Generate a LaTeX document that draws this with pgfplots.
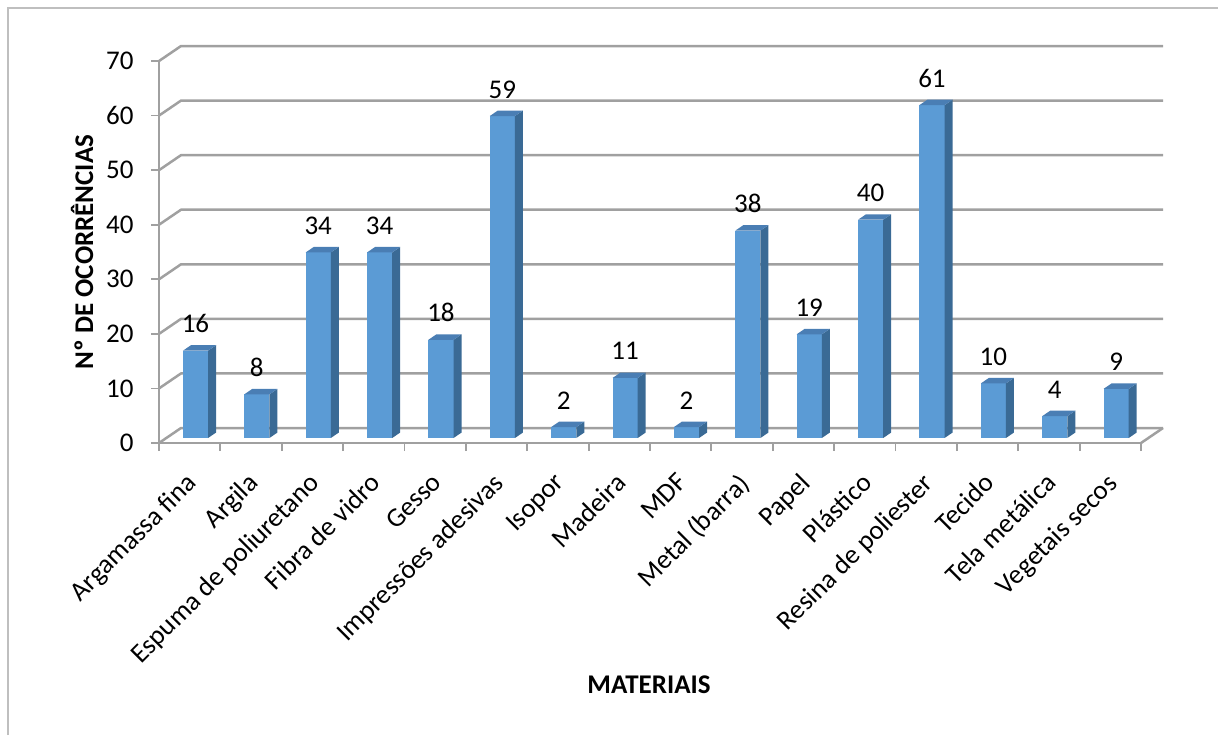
\documentclass[border=0pt]{standalone}
\usepackage{pgfplots}
\pgfplotsset{compat=1.18}
\usepackage{pgfplotstable}
\usepackage{fontspec}
\setmainfont{Carlito}
\definecolor{gridc}{HTML}{A0A0A0}
\definecolor{barfront}{HTML}{5B9BD5}
\definecolor{barside}{HTML}{3A6A95}
\definecolor{bartop}{HTML}{4A7EB4}
\definecolor{borderc}{HTML}{BFBFBF}
\pgfplotstableread{
idx val
0 16
1 8
2 34
3 34
4 18
5 59
6 2
7 11
8 2
9 38
10 19
11 40
12 61
13 10
14 4
15 9
}\datatab
\newcommand\lbl{\fontsize{13.5}{16}\selectfont}
\begin{document}
\begin{tikzpicture}
\useasboundingbox (0,0) rectangle (609pt,367.5pt);
\draw[borderc, line width=0.75pt] (4pt,0) -- (4pt,363.5pt) -- (609pt,363.5pt);
\begin{axis}[
  at={(79.5pt,146pt)}, anchor=south west,
  x=30.6875pt, y=2.7285pt,
  xmin=0, xmax=16, ymin=0, ymax=70,
  clip=false,
  axis x line*=bottom, axis y line*=left,
  axis line style={-, draw=gridc, line width=1.25pt},
  tick align=outside,
  major tick length=4pt,
  tick style={draw=gridc, line width=0.9pt},
  ytick={0,10,...,70},
  xtick={0,...,16}, xticklabels={},
  extra x ticks={0.5,1.5,...,15.5},
  extra x tick labels={Argamassa fina, Argila, Espuma de poliuretano, Fibra de vidro, Gesso, Impressões adesivas, Isopor, Madeira, MDF, Metal (barra), Papel, Plástico, Resina de poliester, Tecido, Tela metálica, Vegetais secos},
  extra x tick style={major tick length=0pt, tick label style={xshift=-2.5pt, yshift=-14pt, rotate=45, anchor=north east, inner sep=0pt}},
  /pgf/number format/assume math mode=true,
  ticklabel style={font=\lbl},
  yticklabel style={anchor=east, inner sep=0pt, xshift=-8.5pt},
]
\pgfplotsinvokeforeach{0,10,...,70}{
  \pgfmathsetmacro\yy{#1+2.749}
  \edef\temp{\noexpand\draw[gridc, line width=1.25pt, line join=round] (axis cs:0,#1) -- (axis cs:0.3585,\yy) -- (axis cs:16.3585,\yy);}
  \temp
}
\draw[gridc, line width=1.25pt] (axis cs:16,0) -- (axis cs:16.3585,2.749);
\pgfplotsinvokeforeach{0,...,15}{
  \pgfplotstablegetelem{#1}{val}\of\datatab
  \pgfmathsetmacro\vt{\pgfplotsretval+0.92}
  \pgfmathsetmacro\vb{\vt+1.0}
  \pgfmathsetmacro\xl{#1+0.5-0.11}
  \pgfmathsetmacro\xr{#1+0.5+0.30}
  \pgfmathsetmacro\xs{#1+0.5+0.43}
  \pgfmathsetmacro\xt{#1+0.5+0.02}
  \edef\doplot{%
    \noexpand\addplot[draw=none, fill=barfront] coordinates {(\xl,0.92) (\xr,0.92) (\xr,\vt) (\xl,\vt)};
    \noexpand\addplot[draw=none, fill=barside] coordinates {(\xr,0.92) (\xs,1.92) (\xs,\vb) (\xr,\vt)};
    \noexpand\addplot[draw=none, fill=bartop] coordinates {(\xl,\vt) (\xr,\vt) (\xs,\vb) (\xt,\vb)};
  }\doplot
}
\addplot[draw=none, nodes near coords, point meta=explicit,
  every node near coord/.append style={anchor=base, inner sep=0pt, yshift=9pt, font=\lbl}]
  table[x expr=\thisrow{idx}+0.594, y expr=\thisrow{val}+0.92, meta=val]{\datatab};
\end{axis}
\node[rotate=90, font=\lbl\bfseries] at (41pt,241.5pt) {Nº DE OCORRÊNCIAS};
\node[font=\lbl\bfseries] at (324.5pt,25pt) {MATERIAIS};
\end{tikzpicture}
\end{document}
